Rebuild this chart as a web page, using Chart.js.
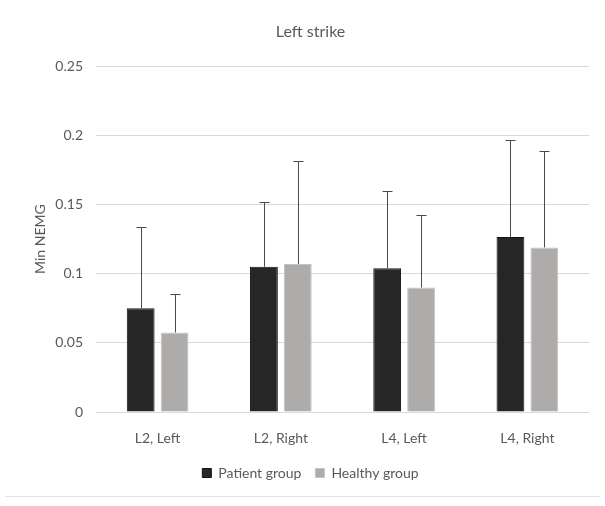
<!DOCTYPE html>
<html>
<head>
<meta charset="utf-8">
<script src="https://cdn.jsdelivr.net/npm/chart.js@4.4.1/dist/chart.umd.min.js"></script>
<style>
    body { margin: 0; background: #fff; }
    #wrap { position: relative; width: 605px; height: 496px; }
    #rule { position: absolute; left: 5px; top: 496px; width: 595px; height: 1px; background: #e3e3e3; }
</style>
</head>
<body>
<div id="wrap"><canvas id="BarChartStrike"></canvas></div>
<div id="rule"></div>
<script>
const categories = ['L2, Left', 'L2, Right', 'L4, Left', 'L4, Right'];
const patientMean = [0.075, 0.105, 0.104, 0.1265];
const patientSd = [0.059, 0.047, 0.0555, 0.0705];
const healthyMean = [0.0575, 0.107, 0.090, 0.119];
const healthySd = [0.0275, 0.0745, 0.0525, 0.070];
const yTicks = [0, 0.05, 0.1, 0.15, 0.2, 0.25];

const fontFamily = "Lato, 'Open Sans', sans-serif";
const textColor = '#595959';

// upper error bars, drawn from the bar positions chart.js gives us
const errorBars = {
    id: 'errorBars',
    afterDatasetsDraw(chart){
        const ctx = chart.ctx;
        const y = chart.scales.y;
        chart.data.datasets.forEach((ds, i) => {
            const meta = chart.getDatasetMeta(i);
            meta.data.forEach((bar, j) => {
                const top = y.getPixelForValue(ds.data[j] + ds.errors[j]);
                ctx.save();
                ctx.strokeStyle = '#4a4a4a';
                ctx.lineWidth = 1;
                ctx.beginPath();
                ctx.moveTo(Math.round(bar.x) + 0.5, bar.y);
                ctx.lineTo(Math.round(bar.x) + 0.5, Math.round(top) + 0.5);
                ctx.moveTo(Math.round(bar.x) - 4.5, Math.round(top) + 0.5);
                ctx.lineTo(Math.round(bar.x) + 5.5, Math.round(top) + 0.5);
                ctx.stroke();
                ctx.restore();
            });
        });
    }
};

function loadChart(){
    const ctx = document.getElementById('BarChartStrike').getContext('2d');

    const data = {
        labels: categories,
        datasets: [{
            label: 'Patient group',
            data: patientMean,
            errors: patientSd,
            backgroundColor: '#262626',
            borderColor: '#111111',
            borderWidth: 1
        }, {
            label: 'Healthy group',
            data: healthyMean,
            errors: healthySd,
            backgroundColor: '#aeabab',
            borderColor: '#c4c2c2',
            borderWidth: 1
        }]
    };

    const config = {
        type: 'bar',
        data: data,
        plugins: [errorBars],
        options: {
            animation: false,
            maintainAspectRatio: false,
            responsive: true,
            categoryPercentage: 0.55,
            barPercentage: 0.82,
            layout: {
                padding: { left: 32, right: 16, top: 0, bottom: 6 }
            },
            scales: {
                x: {
                    grid: { display: false },
                    border: { display: false },
                    ticks: {
                        color: textColor,
                        padding: 10,
                        font: { size: 14, family: fontFamily }
                    },
                    afterFit(scale){ scale.height = 40; }
                },
                y: {
                    min: 0,
                    max: 0.25,
                    afterBuildTicks(scale){
                        scale.ticks = yTicks.map(v => ({ value: v }));
                    },
                    grid: { color: '#d9d9d9', drawTicks: false },
                    border: { display: false },
                    ticks: {
                        color: textColor,
                        padding: 13,
                        font: { size: 14, family: fontFamily },
                        callback: v => Number(v.toFixed(2)).toString()
                    },
                    title: {
                        display: true,
                        text: 'Min NEMG',
                        color: textColor,
                        padding: { top: 0, bottom: 0 },
                        font: { size: 14, family: fontFamily }
                    },
                    afterFit(scale){ scale.width = 64; }
                }
            },
            plugins: {
                title: {
                    display: true,
                    text: 'Left strike',
                    color: textColor,
                    padding: { top: 22, bottom: 25 },
                    font: { size: 16, weight: 'normal', family: fontFamily }
                },
                legend: {
                    position: 'bottom',
                    labels: {
                        color: textColor,
                        boxWidth: 9,
                        boxHeight: 9,
                        padding: 14,
                        font: { size: 14, family: fontFamily }
                    }
                },
                tooltip: { enabled: false }
            }
        }
    };

    const myChart = new Chart(ctx, config);
}

loadChart();
</script>
</body>
</html>
